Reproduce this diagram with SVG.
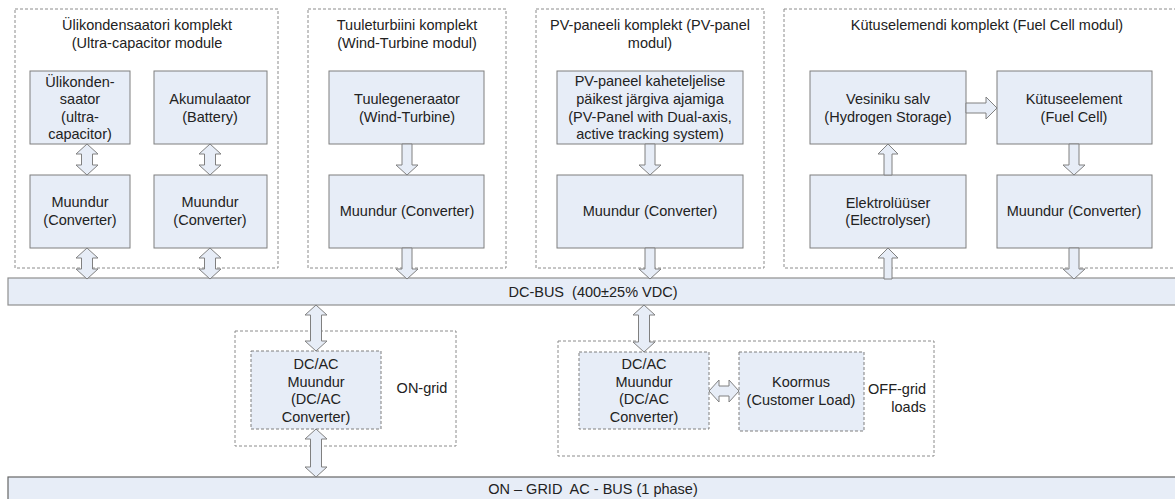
<svg xmlns="http://www.w3.org/2000/svg" width="1175" height="499" viewBox="0 0 1175 499">
<style>
text{font-family:"Liberation Sans",Arial,sans-serif;font-size:14.5px;fill:#222;text-anchor:middle}
.grp{fill:none;stroke:#8c8c8c;stroke-width:1;stroke-dasharray:3,2}
.box{fill:#e7edf7;stroke:#7f7f7f;stroke-width:1}
.dbox{fill:#e7edf7;stroke:#7f7f7f;stroke-width:1;stroke-dasharray:3,2}
.bus{fill:#e7edf7;stroke:#8f8f8f;stroke-width:1.2}
.arr{fill:#e7edf7;stroke:#808080;stroke-width:1}
</style>
<rect width="1175" height="499" fill="#fff"/>
<g id="groups">
<rect class="grp" x="15" y="9" width="263" height="259"/>
<rect class="grp" x="308" y="9" width="198" height="259"/>
<rect class="grp" x="536" y="9" width="228" height="259"/>
<rect class="grp" x="784" y="9" width="400" height="259"/>
<rect class="grp" x="235" y="331" width="221" height="115"/>
<rect class="grp" x="558" y="341" width="376" height="115"/>
</g>
<g id="titles">
<text x="147" y="30">Ülikondensaatori komplekt</text>
<text x="147" y="48">(Ultra-capacitor module</text>
<text x="407" y="30">Tuuleturbiini komplekt</text>
<text x="407" y="48">(Wind-Turbine modul)</text>
<text x="650" y="30">PV-paneeli komplekt (PV-panel</text>
<text x="650" y="48">modul)</text>
<text x="987" y="30">Kütuselemendi komplekt (Fuel Cell modul)</text>
<text x="422" y="393">ON-grid</text>
<text x="926" y="394" style="text-anchor:end">OFF-grid</text>
<text x="926" y="412" style="text-anchor:end">loads</text>
</g>
<g id="dcbus">
<rect class="bus" x="8" y="278" width="1180" height="27"/>
<text x="593" y="297" xml:space="preserve" style="white-space:pre">DC-BUS  (400±25% VDC)</text>
</g>
<g id="acbus">
<rect class="bus" x="8" y="477" width="1180" height="30" style="stroke:#666"/>
<text x="593" y="494" xml:space="preserve" style="white-space:pre">ON – GRID  AC - BUS (1 phase)</text>
</g>
<g id="ultracap">
<rect class="box" x="30" y="71" width="100" height="73"/>
<text x="80" y="87">Ülikonden-</text>
<text x="80" y="104">saator</text>
<text x="80" y="122">(ultra-</text>
<text x="80" y="139">capacitor)</text>
</g>
<g id="battery">
<rect class="box" x="154" y="71" width="113" height="73"/>
<text x="210" y="104">Akumulaator</text>
<text x="210" y="122">(Battery)</text>
</g>
<g id="conv1">
<rect class="box" x="30" y="175" width="100" height="73"/>
<text x="80" y="207">Muundur</text>
<text x="80" y="225">(Converter)</text>
</g>
<g id="conv2">
<rect class="box" x="154" y="175" width="113" height="73"/>
<text x="210" y="207">Muundur</text>
<text x="210" y="225">(Converter)</text>
</g>
<g id="wind">
<rect class="box" x="329" y="71" width="155" height="73"/>
<text x="407" y="104">Tuulegeneraator</text>
<text x="407" y="122">(Wind-Turbine)</text>
</g>
<g id="conv3">
<rect class="box" x="329" y="175" width="155" height="73"/>
<text x="407" y="216">Muundur (Converter)</text>
</g>
<g id="pv">
<rect class="box" x="557" y="71" width="186" height="73"/>
<text x="650" y="86">PV-paneel kaheteljelise</text>
<text x="650" y="104">päikest järgiva ajamiga</text>
<text x="650" y="122">(PV-Panel with Dual-axis,</text>
<text x="650" y="139">active tracking system)</text>
</g>
<g id="conv4">
<rect class="box" x="557" y="175" width="186" height="73"/>
<text x="650" y="216">Muundur (Converter)</text>
</g>
<g id="hydrogen">
<rect class="box" x="810" y="71" width="156" height="73"/>
<text x="888" y="104">Vesiniku salv</text>
<text x="888" y="122">(Hydrogen Storage)</text>
</g>
<g id="fuelcell">
<rect class="box" x="997" y="71" width="155" height="73"/>
<text x="1074" y="104">Kütuseelement</text>
<text x="1074" y="122">(Fuel Cell)</text>
</g>
<g id="electrolyser">
<rect class="box" x="810" y="175" width="156" height="73"/>
<text x="888" y="208">Elektrolüüser</text>
<text x="888" y="225">(Electrolyser)</text>
</g>
<g id="conv5">
<rect class="box" x="997" y="175" width="155" height="73"/>
<text x="1074" y="216">Muundur (Converter)</text>
</g>
<g id="dcac1">
<rect class="dbox" x="251" y="351" width="130" height="78"/>
<text x="316" y="369">DC/AC</text>
<text x="316" y="387">Muundur</text>
<text x="316" y="404">(DC/AC</text>
<text x="316" y="422">Converter)</text>
</g>
<g id="dcac2">
<rect class="dbox" x="579" y="352" width="130" height="77"/>
<text x="644" y="369">DC/AC</text>
<text x="644" y="387">Muundur</text>
<text x="644" y="404">(DC/AC</text>
<text x="644" y="422">Converter)</text>
</g>
<g id="load">
<rect class="dbox" x="739" y="352" width="125" height="79"/>
<text x="801" y="387">Koormus</text>
<text x="801" y="405">(Customer Load)</text>
</g>
<g id="connectors">
<path class="arr" d="M87,144 L98,154 L92.5,154 L92.5,165 L98,165 L87,175 L76,165 L81.5,165 L81.5,154 L76,154 Z"/>
<path class="arr" d="M210,144 L221,154 L215.5,154 L215.5,165 L221,165 L210,175 L199,165 L204.5,165 L204.5,154 L199,154 Z"/>
<path class="arr" d="M87,248 L98,258 L92.5,258 L92.5,269 L98,269 L87,279 L76,269 L81.5,269 L81.5,258 L76,258 Z"/>
<path class="arr" d="M210,248 L221,258 L215.5,258 L215.5,269 L221,269 L210,279 L199,269 L204.5,269 L204.5,258 L199,258 Z"/>
<path class="arr" d="M402,144 L412,144 L412,165 L418,165 L407,175 L396,165 L402,165 Z"/>
<path class="arr" d="M402,248 L412,248 L412,269 L418,269 L407,279 L396,269 L402,269 Z"/>
<path class="arr" d="M645,144 L655,144 L655,165 L661,165 L650,175 L639,165 L645,165 Z"/>
<path class="arr" d="M645,248 L655,248 L655,269 L661,269 L650,279 L639,269 L645,269 Z"/>
<path class="arr" d="M1069,144 L1079,144 L1079,165 L1085,165 L1074,175 L1063,165 L1069,165 Z"/>
<path class="arr" d="M1069,248 L1079,248 L1079,269 L1085,269 L1074,279 L1063,269 L1069,269 Z"/>
<path class="arr" d="M884,175 L892,175 L892,154 L898,154 L888,144 L878,154 L884,154 Z"/>
<path class="arr" d="M884,279 L892,279 L892,258 L898,258 L888,248 L878,258 L884,258 Z"/>
<path class="arr" d="M966,103 L986,103 L986,97 L997,108 L986,119 L986,113 L966,113 Z"/>
<path class="arr" d="M316,305 L327,315 L321.5,315 L321.5,341 L327,341 L316,351 L305,341 L310.5,341 L310.5,315 L305,315 Z"/>
<path class="arr" d="M316,429 L327,439 L321.5,439 L321.5,467 L327,467 L316,477 L305,467 L310.5,467 L310.5,439 L305,439 Z"/>
<path class="arr" d="M644,305 L655,315 L649.5,315 L649.5,342 L655,342 L644,352 L633,342 L638.5,342 L638.5,315 L633,315 Z"/>
<path class="arr" d="M709,391 L719,380 L719,386 L729,386 L729,380 L739,391 L729,402 L729,396 L719,396 L719,402 Z"/>
</g>
</svg>
